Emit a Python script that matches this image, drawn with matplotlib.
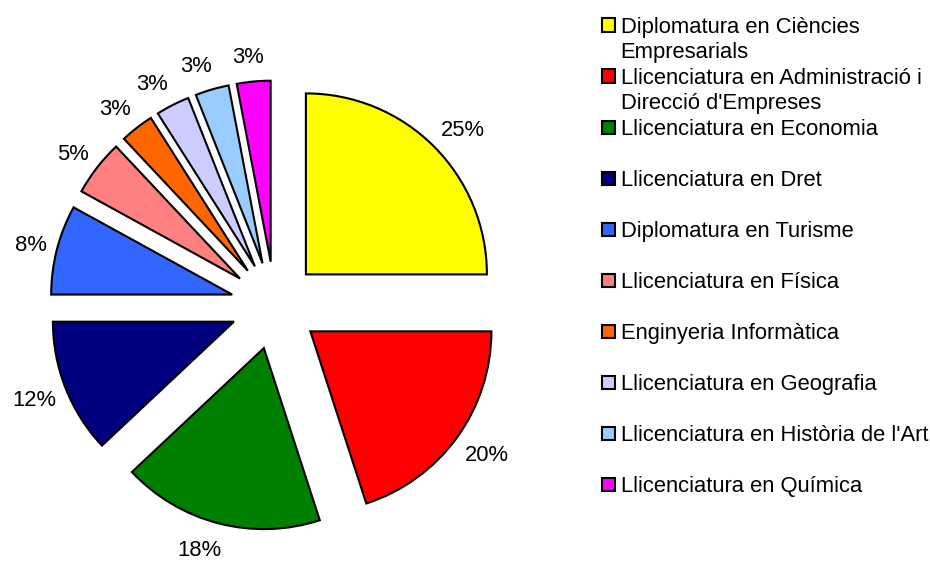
import matplotlib
matplotlib.use('Agg')
import matplotlib.pyplot as plt
from matplotlib.patches import Rectangle
import numpy as np

titulacions = [
    "Diplomatura en Ciències\nEmpresarials",
    "Llicenciatura en Administració i\nDirecció d'Empreses",
    "Llicenciatura en Economia",
    "Llicenciatura en Dret",
    "Diplomatura en Turisme",
    "Llicenciatura en Física",
    "Enginyeria Informàtica",
    "Llicenciatura en Geografia",
    "Llicenciatura en Història de l'Art",
    "Llicenciatura en Química",
]
percentatges = [25, 20, 18, 12, 8, 5, 3, 3, 3, 3]
colors = ["#FFFF00", "#FF0000", "#008000", "#000080", "#3366FF",
          "#FF8080", "#FF6600", "#CCCCFF", "#99CCFF", "#FF00FF"]

plt.rcParams['font.family'] = ['Liberation Sans', 'DejaVu Sans']
FS = 15.8

W, H = 930, 561
R = 181.0              # pixels per pie radius
cx, cy = 274.8, 305.5  # pie centre in pixels (from top-left)

fig = plt.figure(figsize=(W / 100, H / 100), dpi=100)
ax = fig.add_axes([0, 0, 1, 1])
wedges, _ = ax.pie(percentatges, colors=colors, startangle=90, counterclock=False,
                   explode=[0.243] * len(percentatges),
                   wedgeprops=dict(edgecolor='black', linewidth=1.5))
ax.set_xlim(-cx / R, (W - cx) / R)
ax.set_ylim(-(H - cy) / R, cy / R)
ax.set_aspect('auto')
ax.axis('off')

# etiquetes de percentatge fora de cada porció (a l'estil d'Excel)
renderer = fig.canvas.get_renderer()
cap = 0.716 * FS * 100 / 72 / R
gap, hh = 10 / R, 16 / R
for w, p in zip(wedges, percentatges):
    th = np.deg2rad((w.theta1 + w.theta2) / 2)
    c, s = np.cos(th), np.sin(th)
    x0, y0 = w.center
    t = ax.text(0, 0, f"{p}%", ha='center', va='baseline', fontsize=FS)
    hw = t.get_window_extent(renderer).width / 2 / R
    d = w.r + gap
    x = x0 + d * c + hw * np.clip(3 * c, -1, 1)
    y = y0 + d * s + hh * s
    t.set_position((x, y - cap / 2))

# llegenda feta a mà
cap_px = 0.716 * FS * 100 / 72
for i, (lab, col) in enumerate(zip(titulacions, colors)):
    yc = 25 + 51 * i
    fig.patches.append(Rectangle((602 / W, 1 - (yc + 6.5) / H), 13 / W, 13 / H,
                                 facecolor=col, edgecolor='black', linewidth=1.5,
                                 transform=fig.transFigure, figure=fig))
    for k, line in enumerate(lab.split("\n")):
        fig.text(620.5 / W, 1 - (yc + cap_px / 2 + 25.5 * k) / H, line,
                 ha='left', va='baseline', fontsize=FS)

fig.savefig("out.png", dpi=100)
